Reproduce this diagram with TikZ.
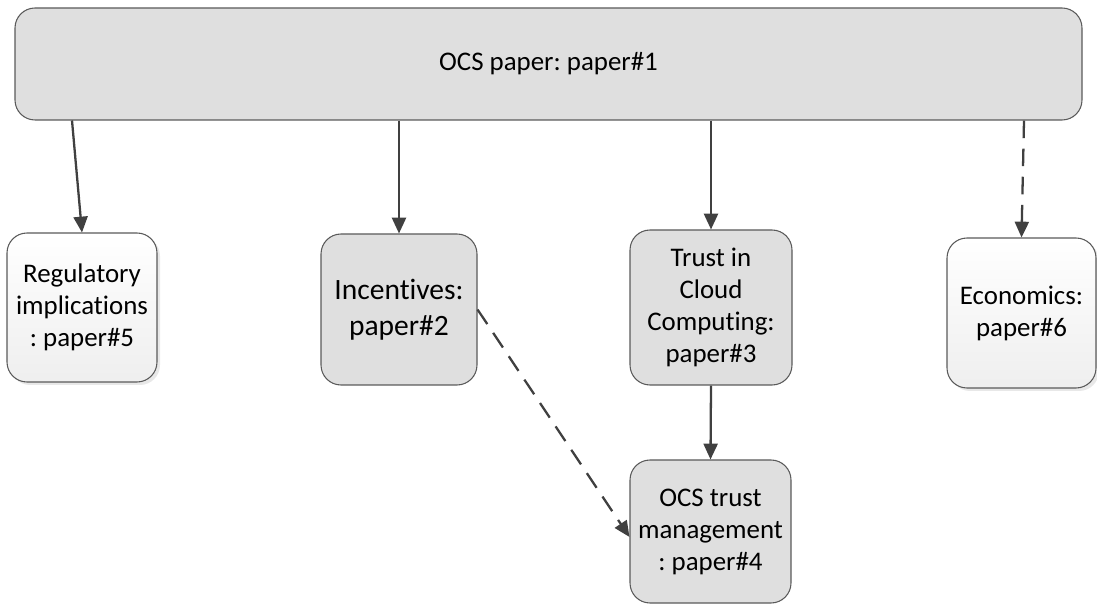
\documentclass[tikz,border=0pt]{standalone}
\usepackage{fontspec}
\setmainfont{Carlito}[Ligatures={NoCommon}]
\usepackage{xcolor}
\usepackage{tikz}
\usetikzlibrary{arrows.meta,positioning,shadows}
\frenchspacing

\definecolor{boxgray}{HTML}{DFDFDF}
\definecolor{edgegray}{HTML}{5A5A5A}
\definecolor{arrgray}{HTML}{404040}

\begin{document}
\begin{tikzpicture}[
  card/.style={rectangle, rounded corners=0.4cm, draw=edgegray, line width=0.6pt, align=center, inner sep=2pt, font=\fontsize{15.3}{18.2}\selectfont},
  grey/.style={card, fill=boxgray},
  pale/.style={card, top color=white, bottom color=gray!13, drop shadow={shadow xshift=0.06cm, shadow yshift=-0.06cm, fill=gray!35, opacity=0.5}},
  arr/.style={draw=arrgray, line width=1.3pt, -{Triangle[length=9pt,width=8pt]}},
  darr/.style={arr, dash pattern=on 10pt off 6pt}
]
\useasboundingbox (0,0) rectangle (21.94,-12.28);
\node[grey, minimum width=21.34cm, minimum height=2.24cm] (top) at (10.97,-1.28) {OCS paper: paper\#1};
\node[pale, minimum width=3.0cm, minimum height=2.98cm] (reg) at (1.64,-6.15) {Regulatory\\implications\\: paper\#5};
\node[grey, minimum width=3.12cm, minimum height=3.02cm, font=\fontsize{16.8}{20.4}\selectfont] (inc) at (7.98,-6.19) {Incentives:\\paper\#2};
\node[grey, minimum width=3.24cm, minimum height=3.1cm] (trust) at (14.22,-6.15) {Trust in\\Cloud\\Computing:\\paper\#3};
\node[pale, minimum width=2.98cm, minimum height=3.0cm] (econ) at (20.43,-6.26) {Economics:\\paper\#6};
\node[grey, minimum width=3.22cm, minimum height=2.86cm] (mgmt) at (14.21,-10.63) {OCS trust\\management\\: paper\#4};
% links from the main paper
\draw[arr] ([xshift=-0.2cm]top.south -| reg.north) -- (reg.north);
\draw[arr] (top.south -| inc.north) -- (inc.north);
\draw[arr] (top.south -| trust.north) -- (trust.north);
\draw[darr] ([xshift=0.05cm]top.south -| econ.north) -- (econ.north);
% links to trust management
\draw[arr] (trust.south) -- (mgmt.north);
\draw[darr] (inc.east) -- ([yshift=-0.11cm]mgmt.west);
\end{tikzpicture}
\end{document}
